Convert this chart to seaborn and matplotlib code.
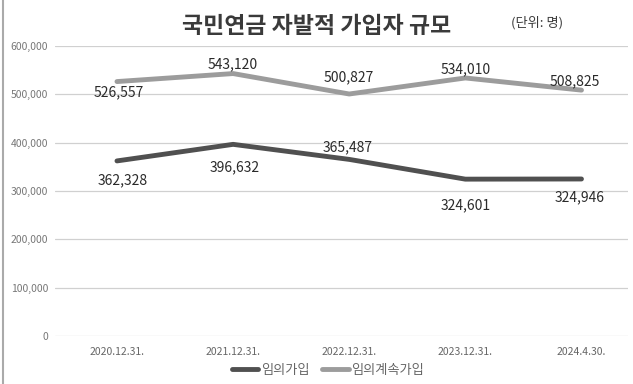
import pandas as pd
import matplotlib.pyplot as plt
import seaborn as sns

# Datos
fechas = ["2020.12.31.", "2021.12.31.", "2022.12.31.", "2023.12.31.", "2024.4.30."]
임의가입 = [362328, 396632, 365487, 324601, 324946]
임의계속가입 = [526557, 543120, 500827, 534010, 508825]
series = ["임의가입", "임의계속가입"]
colores = ["#505050", "#9c9c9c"]

df = pd.DataFrame({
    "x": list(range(len(fechas))) * 2,
    "valor": 임의가입 + 임의계속가입,
    "serie": [series[0]] * len(fechas) + [series[1]] * len(fechas),
})

sns.set_style("white")
plt.rcParams['font.family'] = ['Noto Sans CJK KR', 'DejaVu Sans']

fig = plt.figure(figsize=(6.33, 3.84), dpi=100)
ax = fig.add_axes([0.087, 0.125, 0.905, 0.755])

sns.lineplot(data=df, x="x", y="valor", hue="serie", palette=colores,
             linewidth=3.5, ax=ax, legend=False)

ax.set_ylim(0, 600000)
ax.set_yticks(range(0, 600001, 100000))
ax.set_yticklabels([f"{v:,}" for v in range(0, 600001, 100000)], fontsize=7.5, color="#777777")
ax.set_xlim(-0.533, 4.40)
ax.set_xticks(range(len(fechas)))
ax.set_xticklabels(fechas, fontsize=7.5, color="#666666")
ax.tick_params(axis="y", length=0, pad=5)
ax.tick_params(axis="x", length=0, pad=8)
ax.grid(axis="y", color="#d0d0d0", linewidth=0.9)
for s in ax.spines.values():
    s.set_visible(False)
ax.set_xlabel("")
ax.set_ylabel("")

# Etiquetas de datos (desplazamiento en puntos)
off_gris = [(1.5, -7.5), (0, 6.5), (0, 12), (0, 6.5), (-5, 6.5)]
off_oscuro = [(4, -14), (1.5, -16.5), (-1.5, 9), (0, -19), (-1.5, -13)]
for i, v in enumerate(임의계속가입):
    ax.annotate(f"{v:,}", (i, v), xytext=off_gris[i], textcoords="offset points",
                ha="center", va="center", fontsize=10, fontweight="medium", color="#2a2a2a")
for i, v in enumerate(임의가입):
    ax.annotate(f"{v:,}", (i, v), xytext=off_oscuro[i], textcoords="offset points",
                ha="center", va="center", fontsize=10, fontweight="medium", color="#2a2a2a")

fig.text(0.5, 0.93, "국민연금 자발적 가입자 규모", ha="center", va="center",
         fontsize=16.5, fontweight="bold", color="#3a3a3a")
fig.text(0.848, 0.94, "(단위: 명)", ha="center", va="center", fontsize=9.5, color="#3a3a3a")

handles = [plt.Line2D([], [], color=c, linewidth=3.5) for c in colores]
fig.legend(handles, series, loc="center", bbox_to_anchor=(0.518, 0.036), ncol=2,
           frameon=False, fontsize=9.5, handlelength=2.0, handletextpad=0.2,
           columnspacing=1.0, labelcolor="#666666")

fig.add_artist(plt.Line2D([0.004, 0.004], [0, 1], color="#aaaaaa", linewidth=1.5))

plt.savefig("out.png", dpi=100)
